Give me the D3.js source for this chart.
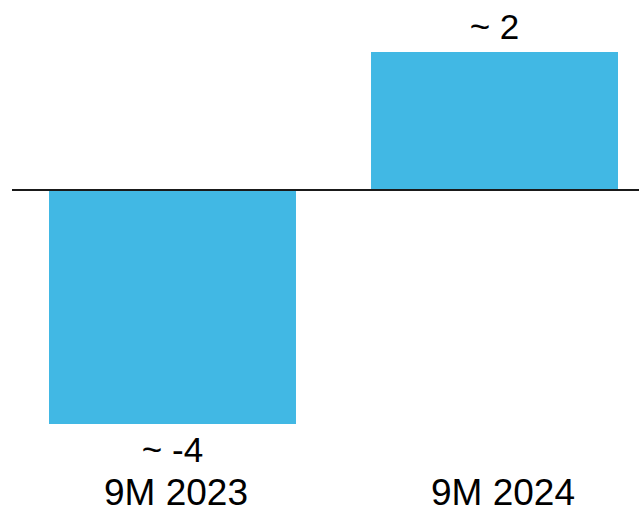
<!DOCTYPE html>
<html>
<head>
<meta charset="utf-8">
<script src="https://cdn.jsdelivr.net/npm/d3@7"></script>
<style>
  html, body { margin: 0; padding: 0; background: #fff; }
  svg { display: block; }
  text { font-family: "Liberation Sans", Arial, sans-serif; fill: #000; }
</style>
</head>
<body>
<svg id="chart" width="639" height="513"></svg>
<script>
// Period categories and their change values
const categories = ["9M 2023", "9M 2024"];
const values = [-4, 2.36];
const valueLabels = ["~ -4", "~ 2"];

const svg = d3.select("#chart");

const x = d3.scaleBand()
  .domain(categories)
  .range([49, 618])
  .paddingInner(0.233)
  .paddingOuter(0);

// Category captions sit on their own points along the bottom
const xLabel = d3.scalePoint()
  .domain(categories)
  .range([176, 503]);

const y = d3.scaleLinear()
  .domain([-4, 2.36])
  .range([424, 52]);

// Bars
svg.selectAll("rect.bar")
  .data(categories)
  .join("rect")
  .attr("class", "bar")
  .attr("x", d => x(d))
  .attr("width", x.bandwidth())
  .attr("y", (d, i) => Math.min(y(0), y(values[i])))
  .attr("height", (d, i) => Math.abs(y(values[i]) - y(0)))
  .attr("fill", "#41B8E4");

// Zero line
svg.append("line")
  .attr("x1", 12)
  .attr("x2", 639)
  .attr("y1", y(0))
  .attr("y2", y(0))
  .attr("stroke", "#1a1a1a")
  .attr("stroke-width", 2);

// Value labels above positive bars, below negative bars
svg.selectAll("text.value")
  .data(categories)
  .join("text")
  .attr("class", "value")
  .attr("x", d => x(d) + x.bandwidth() / 2)
  .attr("y", (d, i) => values[i] >= 0 ? y(values[i]) - 13 : y(values[i]) + 38)
  .attr("text-anchor", "middle")
  .style("font-size", "35px")
  .text((d, i) => valueLabels[i]);

// Category labels
svg.selectAll("text.cat")
  .data(categories)
  .join("text")
  .attr("class", "cat")
  .attr("x", d => xLabel(d))
  .attr("y", 505)
  .attr("text-anchor", "middle")
  .style("font-size", "37px")
  .text(d => d);
</script>
</body>
</html>
